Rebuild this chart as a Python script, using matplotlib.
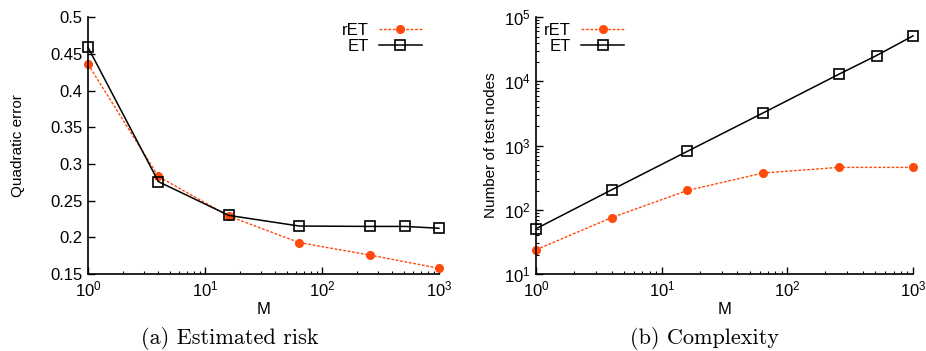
import matplotlib
matplotlib.use("Agg")
import matplotlib.pyplot as plt
from matplotlib.ticker import FormatStrFormatter, LogLocator

plt.rcParams['font.family'] = ['Liberation Sans', 'DejaVu Sans']
plt.rcParams['mathtext.default'] = 'regular'

# Data
m_ret = [1, 4, 16, 64, 256, 1000]
m_et = [1, 4, 16, 64, 256, 512, 1000]

risk_ret = [0.436, 0.283, 0.229, 0.193, 0.176, 0.158]
risk_et = [0.459, 0.276, 0.230, 0.2155, 0.215, 0.215, 0.2125]

nodes_ret = [24, 76, 201, 375, 459, 459]
nodes_et = [51, 206, 817, 3230, 12900, 25300, 51200]

ret_color = '#ff4a0a'

fig = plt.figure(figsize=(9.26, 3.51), dpi=100)
ax1 = fig.add_axes([0.095, 0.219, 0.379, 0.732])
ax2 = fig.add_axes([0.579, 0.219, 0.407, 0.732])

ret_style = dict(color=ret_color, linestyle=(0, (2, 1.2)), linewidth=1.0,
                 marker='o', markersize=5.5, markerfacecolor=ret_color,
                 markeredgecolor=ret_color)
et_style = dict(color='black', linestyle='-', linewidth=1.1,
                marker='s', markersize=6.5, markerfacecolor='none',
                markeredgecolor='black', markeredgewidth=1.2)

# (a) Estimated risk
ax1.plot(m_ret, risk_ret, label='rET', **ret_style)
ax1.plot(m_et, risk_et, label='ET', **et_style)
ax1.set_xscale('log')
ax1.set_xlim(1, 1000)
ax1.set_ylim(0.15, 0.5)
ax1.set_yticks([0.15, 0.2, 0.25, 0.3, 0.35, 0.4, 0.45, 0.5])
ax1.yaxis.set_major_formatter(FormatStrFormatter('%g'))
ax1.set_ylabel('Quadratic error', fontsize=11, labelpad=18)
ax1.legend(loc='upper right', bbox_to_anchor=(0.98, 1.018), frameon=False,
           markerfirst=False, fontsize=12, handlelength=2.6,
           handletextpad=0.6, labelspacing=0.1, borderaxespad=0.2)

# (b) Complexity
ax2.plot(m_ret, nodes_ret, label='rET', **ret_style)
ax2.plot(m_et, nodes_et, label='ET', **et_style)
ax2.set_xscale('log')
ax2.set_yscale('log')
ax2.set_xlim(1, 1000)
ax2.set_ylim(10, 1e5)
ax2.set_ylabel('Number of test nodes', fontsize=11, labelpad=4)
ax2.legend(loc='upper left', bbox_to_anchor=(-0.005, 1.018), frameon=False,
           markerfirst=False, fontsize=12, handlelength=2.6,
           handletextpad=0.6, labelspacing=0.1, borderaxespad=0.2)

for ax in (ax1, ax2):
    ax.spines['top'].set_visible(False)
    ax.spines['right'].set_visible(False)
    ax.spines['left'].set_linewidth(1.2)
    ax.spines['bottom'].set_linewidth(1.2)
    ax.xaxis.set_minor_locator(LogLocator(base=10, subs=range(2, 10)))
    ax.tick_params(which='major', direction='in', length=5, width=1,
                   labelsize=12, pad=4)
    ax.tick_params(which='minor', direction='in', length=2.5, width=0.8)
    ax.set_xlabel('M', fontsize=12, labelpad=2)
    for line in ax.lines:
        line.set_clip_on(False)

fig.text(0.248, 0.037, '(a) Estimated risk', family='cmr10', fontsize=16,
         ha='center', va='center')
fig.text(0.761, 0.037, '(b) Complexity', family='cmr10', fontsize=16,
         ha='center', va='center')

fig.savefig('out.png', dpi=100)
